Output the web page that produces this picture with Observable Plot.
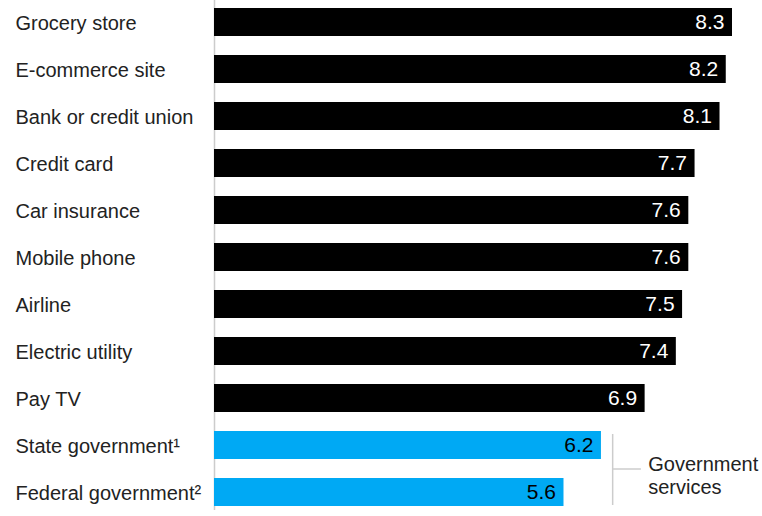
<!DOCTYPE html>
<html>
<head>
<meta charset="utf-8">
<script src="https://cdn.jsdelivr.net/npm/d3@7"></script>
<script src="https://cdn.jsdelivr.net/npm/@observablehq/plot@0.6"></script>
<style>
  html, body { margin: 0; padding: 0; background: #fff; }
  #chart { width: 762px; height: 516px; }
  svg { font-family: "Liberation Sans", Arial, Helvetica, sans-serif; }
</style>
</head>
<body>
<div id="chart"></div>
<script>
const categories = [
  "Grocery store", "E-commerce site", "Bank or credit union", "Credit card",
  "Car insurance", "Mobile phone", "Airline", "Electric utility", "Pay TV",
  "State government¹", "Federal government²"
];
const values = [8.3, 8.2, 8.1, 7.7, 7.6, 7.6, 7.5, 7.4, 6.9, 6.2, 5.6];
const groups = ["private", "private", "private", "private", "private", "private",
  "private", "private", "private", "government", "government"];
const annotationText = "Government\nservices";

const data = categories.map((c, i) => ({name: c, value: values[i], group: groups[i]}));
const gov = data.filter(d => d.group === "government");

const chart = Plot.plot({
  width: 762,
  height: 516,
  marginLeft: 214,
  marginRight: 30,
  marginTop: 0,
  marginBottom: 6,
  style: {fontFamily: '"Liberation Sans", Arial, Helvetica, sans-serif', fontSize: "20px", color: "#222", background: "#fff"},
  x: {domain: [0, 8.3], axis: null},
  y: {domain: categories, range: [2.1, 512], paddingInner: 0.4, paddingOuter: 0.1, label: null},
  color: {domain: ["private", "government"], range: ["#000000", "#00a9f4"]},
  marks: [
    Plot.ruleX([0], {stroke: "#cccccc", strokeWidth: 1.5}),
    Plot.barX(data, {x: "value", y: "name", fill: "group"}),
    Plot.text(data, {
      x: "value", y: "name", text: d => d.value.toFixed(1),
      textAnchor: "end", dx: -8, fontSize: 21,
      fill: d => d.group === "government" ? "#000" : "#fff"
    }),
    Plot.axisY({tickSize: 0, tickPadding: 0, textAnchor: "start", dx: -199, dy: 1, fontSize: 20, fill: "#222"}),
    // bracket
    Plot.tickX([gov[0]], {x: () => 6.38, y: "name", stroke: "#cccccc", strokeWidth: 1.5, insetTop: 3, insetBottom: -19}),
    Plot.tickX([gov[1]], {x: () => 6.38, y: "name", stroke: "#cccccc", strokeWidth: 1.5, insetTop: 0, insetBottom: 1}),
    Plot.ruleY([gov[1]], {y: "name", x1: () => 6.38, x2: () => 6.84, dy: -23.5, stroke: "#cccccc", strokeWidth: 1.5}),
    Plot.text([gov[1]], {
      x: () => 6.95, y: "name", text: () => annotationText,
      textAnchor: "start", lineAnchor: "middle", lineHeight: 1.15,
      dy: -17.5, fontSize: 20, fill: "#222"
    })
  ]
});
document.getElementById("chart").appendChild(chart);
</script>
</body>
</html>
